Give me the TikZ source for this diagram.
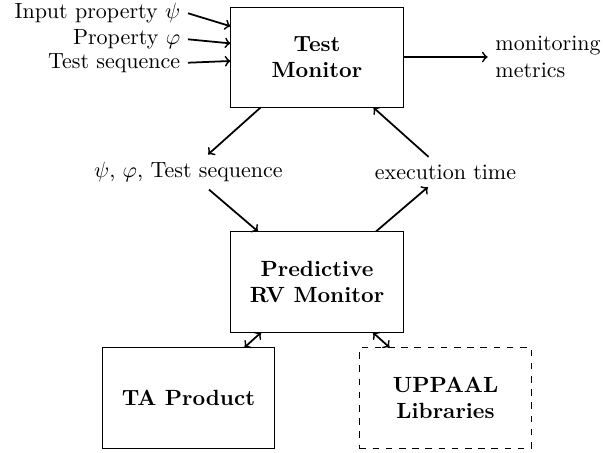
\documentclass[tikz,border=0pt]{standalone}
\usepackage{amsmath}
\usepackage{amssymb}
\usepackage{tikz}

\begin{document}
\begin{tikzpicture}[blk/.style={draw,minimum width=2.75cm,minimum height=1.6cm,align=center,font=\bfseries},
  conn/.style={->,thick}]
\useasboundingbox (-5.064,-2.716) rectangle (4.569,4.505);
    % monitors
    \node[blk] (tm) at (0,3.594) {Test\\Monitor};
    \node[blk] (prv) at (0,0) {Predictive\\RV Monitor};
    \node[blk] (ta) at (-2.053,-1.853) {TA Product};
    \node[blk,dashed] (up) at (2.053,-1.853) {UPPAAL\\Libraries};

    \node (seq) at (-2.053,1.757) {$\psi$, $\varphi$, Test sequence};
    \node (ex) at (2.053,1.757) {execution time};
    \node[anchor=west,align=left] (mm) at (2.727,3.594) {monitoring\\metrics};

    \node[anchor=east] (in1) at (-2.061,4.293) {Input property $\psi$};
    \node[anchor=east] (in2) at (-2.061,3.877) {Property $\varphi$};
    \node[anchor=east] (in3) at (-2.061,3.503) {Test sequence};

\draw[conn] (in1.east) -- ([yshift=14pt]tm.west);
\draw[conn] (in2.east) -- ([yshift=6.2pt]tm.west);
\draw[conn] (in3.east) -- ([yshift=-1.8pt]tm.west);
\draw[conn] (tm) -- (mm);
\draw[conn] (tm) -- (seq);
\draw[conn] (seq) -- (prv);
\draw[conn] (prv) -- (ex);
\draw[conn] (ex) -- (tm);
\draw[conn,<->] (prv) -- (ta);
\draw[conn,<->] (prv) -- (up);
    \end{tikzpicture}
\end{document}
